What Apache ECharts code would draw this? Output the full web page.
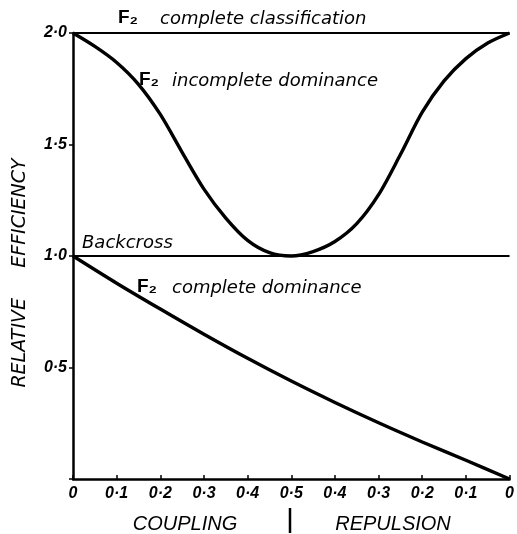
<!DOCTYPE html>
<html>
<head>
<meta charset="utf-8">
<script src="https://cdn.jsdelivr.net/npm/echarts@6/dist/echarts.min.js"></script>
<style>
  html, body { margin: 0; padding: 0; background: #fff; }
  #main { width: 517px; height: 534px; }
</style>
</head>
<body>
<div id="main"></div>
<script>
// x position runs 0 -> 1 along the axis: coupling 0..0.5 then repulsion 0.5..0
var xTickLabels = ['0', '0·1', '0·2', '0·3', '0·4', '0·5', '0·4', '0·3', '0·2', '0·1', '0'];
var yTickLabels = ['', '0·5', '1·0', '1·5', '2·0'];

var incompleteX = [0, 0.05, 0.1, 0.15, 0.2, 0.25, 0.3, 0.35, 0.4, 0.45, 0.5, 0.55, 0.6, 0.65, 0.7, 0.75, 0.8, 0.85, 0.9, 0.95, 1.0];
var incompleteY = [2.0, 1.94, 1.868, 1.77, 1.635, 1.465, 1.30, 1.17, 1.07, 1.015, 1.0, 1.02, 1.065, 1.145, 1.275, 1.455, 1.645, 1.785, 1.885, 1.955, 2.0];

var dominanceX = [0, 0.1, 0.2, 0.3, 0.4, 0.5, 0.6, 0.7, 0.8, 0.9, 1.0];
var dominanceY = [1.0, 0.878, 0.762, 0.649, 0.541, 0.439, 0.343, 0.252, 0.166, 0.084, 0.0];

var classificationLevel = 2.0;
var backcrossLevel = 1.0;

function pairs(xs, ys) {
    return xs.map(function (x, i) { return [x, ys[i]]; });
}

var chart = echarts.init(document.getElementById('main'));
var noteFont = 'oblique 18px DejaVu Sans';
var fFont = 'bold 19px Liberation Sans';

var option = {
    backgroundColor: '#fff',
    animation: false,
    grid: { left: 73, right: 6, top: 33, bottom: 55 },
    xAxis: {
        type: 'value', min: 0, max: 1, interval: 0.1,
        axisLine: { lineStyle: { color: '#000', width: 2.5 } },
        axisTick: { inside: true, length: 4, lineStyle: { color: '#000', width: 1.5 } },
        splitLine: { show: false },
        axisLabel: {
            margin: 7, fontSize: 16, fontFamily: 'Liberation Sans', fontStyle: 'italic', fontWeight: 'bold', color: '#000',
            formatter: function (v) { return xTickLabels[Math.round(v * 10)]; }
        }
    },
    yAxis: {
        type: 'value', min: 0, max: 2, interval: 0.5,
        axisLine: { show: true, lineStyle: { color: '#000', width: 2.5 } },
        axisTick: { show: true, length: 4, lineStyle: { color: '#000', width: 1.5 } },
        splitLine: { show: false },
        axisLabel: {
            margin: 6, fontSize: 16, fontFamily: 'Liberation Sans', fontStyle: 'italic', fontWeight: 'bold', color: '#000',
            formatter: function (v) { return yTickLabels[Math.round(v * 2)]; }
        }
    },
    series: [
        {
            name: 'F2 complete classification', type: 'line', symbol: 'none',
            data: [[0, classificationLevel], [1, classificationLevel]],
            lineStyle: { color: '#000', width: 2 }
        },
        {
            name: 'Backcross', type: 'line', symbol: 'none',
            data: [[0, backcrossLevel], [1, backcrossLevel]],
            lineStyle: { color: '#000', width: 2 }
        },
        {
            name: 'F2 incomplete dominance', type: 'line', symbol: 'none', smooth: 0.3,
            data: pairs(incompleteX, incompleteY),
            lineStyle: { color: '#000', width: 3.4 }
        },
        {
            name: 'F2 complete dominance', type: 'line', symbol: 'none', smooth: 0.3,
            data: pairs(dominanceX, dominanceY),
            lineStyle: { color: '#000', width: 3.4 }
        }
    ],
    graphic: [
        // curve labels
        { type: 'text', x: 118, y: 18, style: { text: 'F₂', font: fFont, fill: '#000', verticalAlign: 'middle' } },
        { type: 'text', x: 160, y: 19, style: { text: 'complete classification', font: noteFont, fill: '#000', verticalAlign: 'middle' } },
        { type: 'text', x: 139, y: 80, style: { text: 'F₂', font: fFont, fill: '#000', verticalAlign: 'middle' } },
        { type: 'text', x: 172, y: 81, style: { text: 'incomplete dominance', font: noteFont, fill: '#000', verticalAlign: 'middle' } },
        { type: 'text', x: 82, y: 243, style: { text: 'Backcross', font: noteFont, fill: '#000', verticalAlign: 'middle' } },
        { type: 'text', x: 137, y: 287, style: { text: 'F₂', font: fFont, fill: '#000', verticalAlign: 'middle' } },
        { type: 'text', x: 172, y: 288, style: { text: 'complete dominance', font: noteFont, fill: '#000', verticalAlign: 'middle' } },
        // axis titles
        { type: 'text', x: 20, y: 273, rotation: Math.PI / 2,
          style: { text: 'RELATIVE     EFFICIENCY', font: 'oblique 19px DejaVu Sans', fill: '#000', align: 'center', verticalAlign: 'middle' } },
        { type: 'text', x: 185, y: 524, style: { text: 'COUPLING', font: 'italic 20px Liberation Sans', fill: '#000', align: 'center', verticalAlign: 'middle' } },
        { type: 'text', x: 393, y: 524, style: { text: 'REPULSION', font: 'italic 20px Liberation Sans', fill: '#000', align: 'center', verticalAlign: 'middle' } },
        { type: 'line', shape: { x1: 290, y1: 508, x2: 290, y2: 533 }, style: { stroke: '#000', lineWidth: 2.5 } }
    ]
};
chart.setOption(option);
</script>
</body>
</html>
